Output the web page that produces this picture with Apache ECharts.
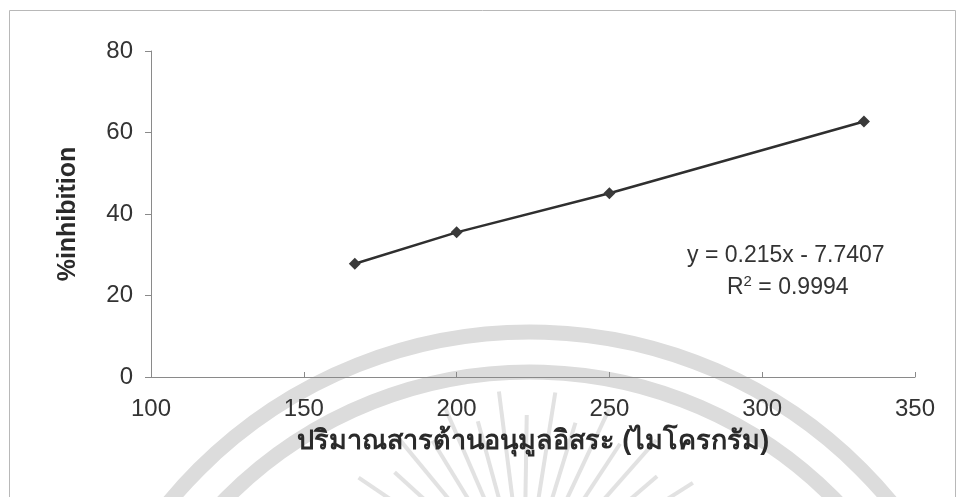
<!DOCTYPE html>
<html>
<head>
<meta charset="utf-8">
<script src="https://cdn.jsdelivr.net/npm/echarts@6/dist/echarts.min.js"></script>
<style>
  html, body { margin: 0; padding: 0; background: #ffffff; }
  #chart { width: 959px; height: 497px; }
</style>
</head>
<body>
<div id="chart"></div>
<script>
// Antioxidant amount (micrograms) vs. % inhibition
const doses = [166.7, 200, 250, 333.3];
const inhibition = [27.8, 35.5, 45.1, 62.7];
const xTicks = [100, 150, 200, 250, 300, 350];
const yTicks = [0, 20, 40, 60, 80];
const equationText = 'y = 0.215x - 7.7407';
const r2Text = '0.9994';
const xTitle = 'ปริมาณสารต้านอนุมูลอิสระ (ไมโครกรัม)';
const yTitle = '%inhibition';

const points = doses.map((d, i) => [d, inhibition[i]]);
const FONT = '"Liberation Sans", Arial, "Noto Sans", sans-serif';

// faint emblem in the page background
const emblem = [];
const cx = 530, cy = 800;
[468, 428].forEach(r => {
  emblem.push({
    type: 'arc', silent: true, z: -10,
    shape: { cx: cx, cy: cy, r: r, startAngle: -Math.PI * 0.87, endAngle: -Math.PI * 0.13 },
    style: { fill: null, stroke: '#dcdcdc', lineWidth: 15 }
  });
});
const rcx = 524, rcy = 590;
for (let k = 0; k < 15; k++) {
  const a = -Math.PI * (0.18 + k * 0.045);
  emblem.push({
    type: 'line', silent: true, z: -10,
    shape: {
      x1: rcx + Math.cos(a) * 90, y1: rcy + Math.sin(a) * 90,
      x2: rcx + Math.cos(a) * (k % 2 ? 175 : 200), y2: rcy + Math.sin(a) * (k % 2 ? 175 : 200)
    },
    style: { stroke: '#e2e2e2', lineWidth: 4 }
  });
}

const chart = echarts.init(document.getElementById('chart'));
chart.setOption({
  animation: false,
  backgroundColor: '#ffffff',
  grid: { left: 151, right: 44, top: 51, bottom: 120 },
  xAxis: {
    type: 'value',
    min: xTicks[0], max: xTicks[xTicks.length - 1], interval: 50,
    name: xTitle, nameLocation: 'middle', nameGap: 51,
    nameTextStyle: { fontFamily: FONT, fontSize: 27, fontWeight: 'bold', color: '#2a2a2a' },
    axisLine: { lineStyle: { color: '#8a8a8a', width: 1 } },
    axisTick: { show: true, length: 5, inside: true, lineStyle: { color: '#8a8a8a' } },
    axisLabel: { fontFamily: FONT, fontSize: 24, color: '#333', margin: 20 },
    splitLine: { show: false }
  },
  yAxis: {
    type: 'value',
    min: yTicks[0], max: yTicks[yTicks.length - 1], interval: 20,
    name: yTitle, nameLocation: 'middle', nameGap: 70,
    nameTextStyle: { fontFamily: FONT, fontSize: 25, fontWeight: 'bold', color: '#2a2a2a' },
    axisLine: { show: true, lineStyle: { color: '#8a8a8a', width: 1 } },
    axisTick: { show: true, length: 6, lineStyle: { color: '#8a8a8a' } },
    axisLabel: { fontFamily: FONT, fontSize: 24, color: '#333', margin: 18 },
    splitLine: { show: false }
  },
  series: [{
    type: 'line',
    data: points,
    symbol: 'diamond',
    symbolSize: 12,
    itemStyle: { color: '#3a3a3a' },
    lineStyle: { color: '#2f2f2f', width: 2.5 },
    z: 5
  }],
  graphic: emblem.concat([
    {
      type: 'rect', silent: true, z: -5,
      shape: { x: 9.5, y: 10.5, width: 946, height: 500 },
      style: { fill: null, stroke: '#b8b8b8', lineWidth: 1 }
    },
    {
      type: 'text', left: 687, top: 244, z: 10,
      style: { text: equationText, font: '23px ' + FONT, fill: '#333' }
    },
    {
      type: 'text', left: 727, top: 274, z: 10,
      style: {
        text: '{n|R}{s|2}{n| = ' + r2Text + '}',
        rich: {
          n: { font: '23px ' + FONT, fill: '#333', verticalAlign: 'bottom' },
          s: { font: '15px ' + FONT, fill: '#333', verticalAlign: 'top', padding: [0, 0, 10, 0] }
        }
      }
    }
  ])
});
</script>
</body>
</html>
